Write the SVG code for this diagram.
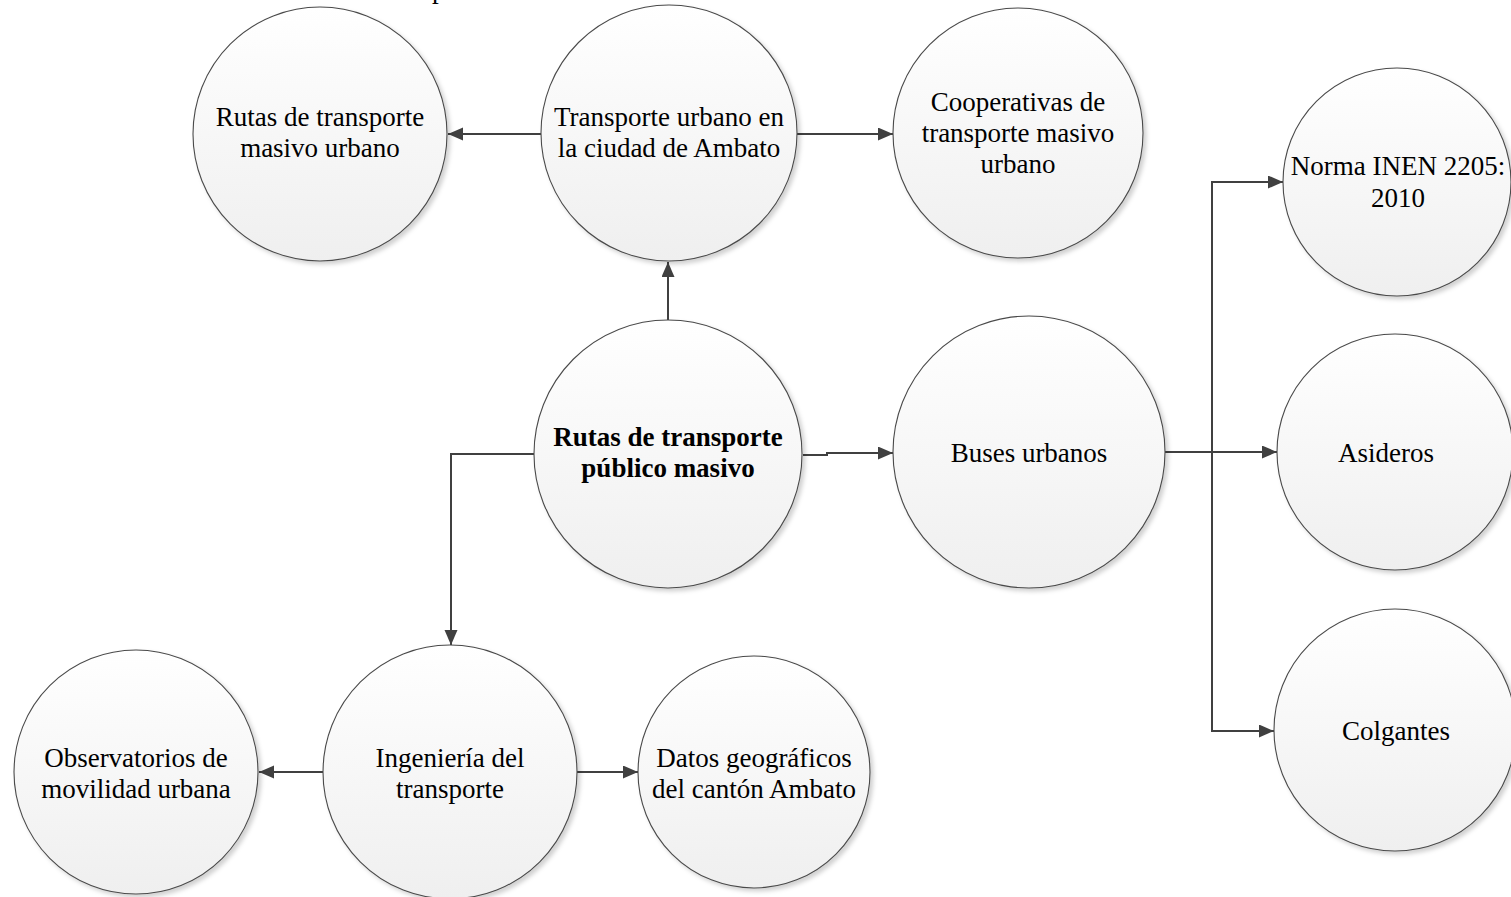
<svg xmlns="http://www.w3.org/2000/svg" width="1511" height="897" viewBox="0 0 1511 897">
  <style>
    .node circle { fill: url(#bubble); stroke: #4a4a4a; stroke-width: 1.1; filter: url(#shadow); }
    .node text { font-family: "Liberation Serif", "Times New Roman", serif; font-size: 27px; fill: #000; text-anchor: middle; }
    .node text.main { font-weight: bold; }
    .edge { fill: none; stroke: #404040; stroke-width: 2; marker-end: url(#arrow); }
  </style>
  <defs>
    <linearGradient id="bubble" x1="0" y1="0" x2="0" y2="1">
      <stop offset="0" stop-color="#ffffff"/>
      <stop offset="1" stop-color="#efefef"/>
    </linearGradient>
    <filter id="shadow" x="-10%" y="-10%" width="125%" height="125%">
      <feDropShadow dx="3" dy="3" stdDeviation="2" flood-color="#000" flood-opacity="0.18"/>
    </filter>
    <marker id="arrow" markerUnits="userSpaceOnUse" markerWidth="16" markerHeight="14" refX="15" refY="6.5" orient="auto">
      <path d="M0,0 L15,6.5 L0,13 z" fill="#404040"/>
    </marker>
  </defs>

  <rect width="1511" height="897" fill="#ffffff"/>

  <!-- descender of a heading cut by the top edge -->
  <text x="432" y="-2" font-family="Liberation Serif, serif" font-size="27" fill="#000">p</text>

  <!-- connectors -->
  <g id="connectors">
    <path class="edge" d="M668,321 V262"/>
    <path class="edge" d="M541,134 H448"/>
    <path class="edge" d="M797,134 H893"/>
    <path class="edge" d="M803,455 H827 V453 H893"/>
    <path class="edge" d="M534,454 H451 V645"/>
    <path class="edge" d="M323,772 H259"/>
    <path class="edge" d="M577,772 H638"/>
    <path class="edge" d="M1165,452 H1212 V182 H1283"/>
    <path class="edge" d="M1165,452 H1277"/>
    <path class="edge" d="M1212,452 V731 H1274"/>
  </g>

  <g id="rutas-masivo-urbano" class="node">
    <circle cx="320" cy="134" r="127"/>
    <text x="320" y="126">Rutas de transporte</text>
    <text x="320" y="157">masivo urbano</text>
  </g>

  <g id="transporte-urbano-ambato" class="node">
    <circle cx="669" cy="133" r="128"/>
    <text x="669" y="126">Transporte urbano en</text>
    <text x="669" y="157">la ciudad de Ambato</text>
  </g>

  <g id="cooperativas" class="node">
    <circle cx="1018" cy="133" r="125"/>
    <text x="1018" y="111">Cooperativas de</text>
    <text x="1018" y="142">transporte masivo</text>
    <text x="1018" y="173">urbano</text>
  </g>

  <g id="norma-inen" class="node">
    <circle cx="1397" cy="182" r="114"/>
    <text x="1398" y="175">Norma INEN 2205:</text>
    <text x="1398" y="207">2010</text>
  </g>

  <g id="rutas-publico-masivo" class="node">
    <circle cx="668" cy="454" r="134"/>
    <text class="main" x="668" y="446">Rutas de transporte</text>
    <text class="main" x="668" y="477">público masivo</text>
  </g>

  <g id="buses-urbanos" class="node">
    <circle cx="1029" cy="452" r="136"/>
    <text x="1029" y="462">Buses urbanos</text>
  </g>

  <g id="asideros" class="node">
    <circle cx="1395" cy="452" r="118"/>
    <text x="1386" y="462">Asideros</text>
  </g>

  <g id="colgantes" class="node">
    <circle cx="1395" cy="730" r="121"/>
    <text x="1396" y="740">Colgantes</text>
  </g>

  <g id="ingenieria-transporte" class="node">
    <circle cx="450" cy="772" r="127"/>
    <text x="450" y="767">Ingeniería del</text>
    <text x="450" y="798">transporte</text>
  </g>

  <g id="observatorios" class="node">
    <circle cx="136" cy="772" r="122"/>
    <text x="136" y="767">Observatorios de</text>
    <text x="136" y="798">movilidad urbana</text>
  </g>

  <g id="datos-geograficos" class="node">
    <circle cx="754" cy="772" r="116"/>
    <text x="754" y="767">Datos geográficos</text>
    <text x="754" y="798">del  cantón Ambato</text>
  </g>
</svg>
